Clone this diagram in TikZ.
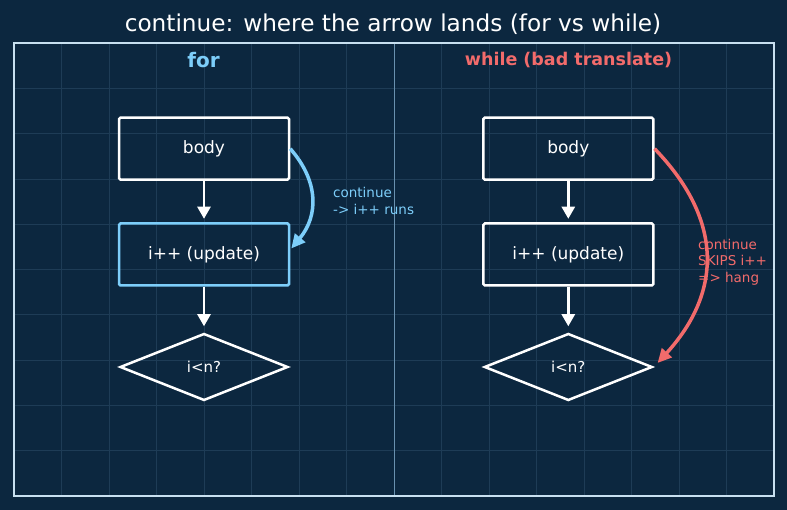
\documentclass[tikz,border=0pt]{standalone}
\usepackage{fontspec}
\setmainfont{DejaVu Sans}
\usetikzlibrary{arrows.meta,shapes.geometric}
\definecolor{bg}{RGB}{12,39,63}
\definecolor{gridc}{RGB}{30,60,86}
\definecolor{framec}{RGB}{200,224,240}
\definecolor{divc}{RGB}{105,145,175}
\definecolor{cblue}{RGB}{125,206,250}
\definecolor{cred}{RGB}{242,107,107}
\tikzset{
  box/.style={draw=white, line width=2.5pt, rounded corners=1.5pt, minimum width=170pt, minimum height=62pt, inner sep=0pt, text=white, font=\fontsize{17}{20}\selectfont},
  dia/.style={diamond, draw=white, line width=2.5pt, minimum width=168pt, minimum height=67pt, inner sep=0pt, text=white, font=\fontsize{15}{18}\selectfont},
  flow/.style={draw=white, line width=2.5pt, -{Triangle[length=12pt,width=13pt]}},
  curv/.style={line width=3.5pt, -{Triangle[length=14pt,width=13pt]}},
  note/.style={anchor=west, align=left, font=\fontsize{13.5}{16.5}\selectfont, inner sep=0pt},
}
\begin{document}
\begin{tikzpicture}[x=1pt,y=-1pt]
\fill[bg] (0,0) rectangle (787,510);
\useasboundingbox (0,0) rectangle (787,510);
% grid
\foreach \k in {1,...,15} \draw[gridc, line width=0.6pt] ({14+47.5*\k},43) -- ({14+47.5*\k},496);
\foreach \k in {1,...,9} \draw[gridc, line width=0.6pt] (14,{43+45.3*\k}) -- (774,{43+45.3*\k});
\draw[divc, line width=1pt] (394,43) -- (394,496);
\draw[framec, line width=1.6pt] (14,43) rectangle (774,496);
% title
\node[text=white, font=\fontsize{23.2}{27}\selectfont] (title) at (393,24) {continue: where the arrow lands (for vs while)};
\node[text=cblue, font=\bfseries\fontsize{20}{24}\selectfont] (hfor) at (203.5,60) {for};
\node[text=cred, font=\bfseries\fontsize{17.5}{21}\selectfont] (hwhile) at (568.5,60) {while (bad translate)};
% left column
\node[box] (body1) at (204,148.7) {body};
\node[box, draw=cblue] (upd1) at (204,254.5) {i++ (update)};
\node[dia] (d1) at (204,367) {i<n?};
\draw[flow, shorten >=3.5pt] (body1) -- (upd1);
\draw[flow, shorten >=6pt] (upd1) -- (d1);
% right column
\node[box] (body2) at (568.3,148.7) {body};
\node[box] (upd2) at (568.3,254.5) {i++ (update)};
\node[dia] (d2) at (568.3,367) {i<n?};
\draw[flow, shorten >=3.5pt] (body2) -- (upd2);
\draw[flow, shorten >=6pt] (upd2) -- (d2);
% notes
\node[note, text=cblue] (n1) at (333,201) {continue\\-> i++ runs};
\node[note, text=cred] (n2) at (698,262) {continue\\SKIPS i++\\=> hang};
% curved arrows
\coordinate (bt) at ([xshift=1pt,yshift=6pt]upd1.east);
\draw[curv, cblue] (body1.east) .. controls +(28.7,32.7) and +(27.3,-32.7) .. (bt);
\coordinate (rt) at ([xshift=4pt,yshift=4pt]d2.east);
\draw[curv, cred] (body2.east) .. controls +(67.7,70) and +(65.7,-72) .. (rt);
\end{tikzpicture}
\end{document}
